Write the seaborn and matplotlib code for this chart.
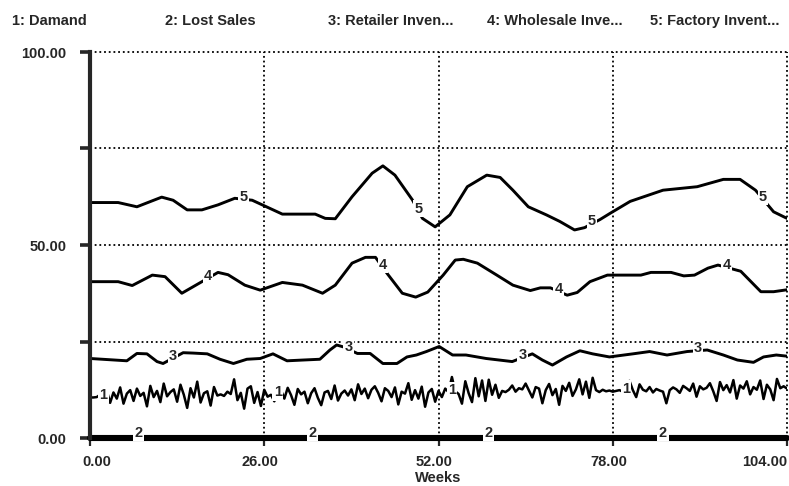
import numpy as np
import pandas as pd
import matplotlib
matplotlib.use("Agg")
import matplotlib.pyplot as plt
import matplotlib.transforms as mtransforms
import seaborn as sns

# header / legend texts
legend_names = ["1: Damand", "2: Lost Sales", "3: Retailer Inven...",
                "4: Wholesale Inve...", "5: Factory Invent..."]

# 1: Demand, read every half week
demand_weeks = np.arange(0, 104.5, 0.5)
demand = [
    10.5, 10.5, 10.6, 11.2, 10.4, 12.3, 9.1, 11.8, 10.2, 13.1, 8.9, 11.5, 12.4,
    9.6, 12.8, 10.9, 11.7, 8.2, 13.5, 10.6, 12.2, 9.3, 14.1, 10.8, 11.9, 12.6,
    9.4, 13.8, 11.2, 7.8, 12.9, 10.5, 14.6, 9.2, 11.6, 12.1, 8.4, 13.2, 11.0,
    11.3, 10.9, 12.0, 11.4, 15.2, 9.8, 11.7, 7.6, 12.8, 13.4, 9.1, 11.9, 8.3,
    12.5, 10.7, 11.2, 9.5, 11.8, 12.4, 10.2, 13.0, 11.1, 8.6, 12.7, 11.3, 12.0,
    9.0, 11.6, 12.9, 10.4, 8.5, 11.8, 12.2, 10.1, 13.6, 9.7, 11.5, 12.3, 11.0,
    12.6, 9.8, 13.9, 11.4, 12.8, 10.3, 12.5, 13.4, 11.7, 9.5, 12.9, 12.2, 10.6,
    13.1, 8.7, 12.0, 11.5, 14.2, 9.9, 12.4, 10.2, 13.3, 8.1, 11.8, 12.7, 9.4,
    12.2, 10.6, 12.8, 11.9, 15.8, 12.1, 11.4, 8.9, 14.7, 11.6, 9.3, 15.5, 10.8,
    14.9, 9.6, 15.1, 11.2, 13.8, 10.4, 12.2, 11.9, 12.5, 13.6, 12.0, 12.9, 12.6,
    14.1, 12.3, 10.5, 13.2, 12.8, 9.0, 12.4, 14.0, 11.1, 12.7, 8.6, 13.5, 12.2,
    14.3, 10.9, 12.6, 15.2, 11.3, 14.6, 10.4, 15.6, 12.4, 11.9, 12.5, 12.1, 12.3,
    12.0, 12.2, 12.4, 12.0, 11.9, 14.8, 12.4, 10.6, 13.9, 12.5, 12.1, 13.2, 11.8,
    12.7, 12.3, 12.0, 9.0, 12.4, 13.1, 12.6, 11.7, 13.5, 12.9, 12.2, 14.1, 10.7,
    13.4, 12.6, 13.0, 14.2, 12.1, 9.6, 14.5, 12.4, 13.7, 11.8, 15.0, 10.2, 13.6,
    12.8, 14.7, 11.3, 13.2, 12.5, 14.9, 10.1, 13.8, 12.6, 9.8, 15.3, 12.9, 13.4,
    12.8,
]

# 2: Lost Sales
lost_weeks = [0, 26, 52, 78, 104]
lost_sales = [0, 0, 0, 0, 0]

# 3: Retailer Inventory
retail_weeks = [0, 5.5, 7, 8.5, 10, 10.9, 13.9, 15.4, 17.5, 19.4,
                21.4, 23.4, 25.4, 27.3, 29.4, 31.8, 34.3, 35.8, 36.8, 37.8,
                39.9, 41.8, 43.7, 45.8, 47.3, 48.7, 50.2, 52.1, 54.1, 56.1,
                59.1, 63, 66, 67.5, 69, 71.1, 73.1, 75, 77.5, 81,
                83.5, 86.1, 89.1, 92.1, 94.5, 96.6, 99, 100.5, 102.4, 104]
retail_inv = [20.6, 20.0, 21.9, 21.8, 19.8, 19.3, 22.1, 22.0, 21.8, 20.4,
              19.3, 20.4, 20.6, 21.8, 20.0, 20.2, 20.4, 22.8, 24.1, 23.6,
              21.9, 21.9, 19.3, 19.3, 21.0, 21.5, 22.4, 23.7, 21.5, 21.5,
              20.6, 19.8, 21.8, 20.2, 18.9, 21.0, 22.6, 21.8, 21.0, 21.8,
              22.4, 21.5, 22.4, 22.8, 21.5, 20.2, 19.6, 21.0, 21.5, 21.2]

# 4: Wholesale Inventory
whole_weeks = [0, 4.2, 6.3, 9.3, 11.2, 13.7, 16.7, 19.1, 20.6, 23.1,
               25.4, 28.7, 31.7, 34.7, 36.6, 39.1, 41.1, 42.6, 44.3, 46.6,
               48.6, 50.4, 52.7, 54.5, 55.7, 57.8, 60.7, 63.1, 65.7, 67.2,
               68.7, 71.2, 72.7, 74.6, 77.2, 82.2, 83.7, 86.7, 88.6, 90.2,
               92.2, 93.7, 97.1, 100.1, 102, 104]
whole_inv = [40.5, 40.5, 39.5, 42.2, 41.8, 37.5, 40.5, 42.9, 42.3, 39.6,
             38.3, 40.3, 39.6, 37.5, 39.6, 45.3, 46.8, 46.8, 42.7, 37.5,
             36.5, 37.8, 42.2, 46.1, 46.3, 45.3, 42.2, 39.6, 38.2, 38.9,
             38.9, 37.0, 37.7, 40.5, 42.2, 42.2, 42.9, 42.9, 42.0, 42.2,
             44.0, 44.8, 43.2, 37.9, 37.9, 38.4]

# 5: Factory Inventory
fact_weeks = [0, 4.2, 7, 10.7, 12.4, 14.5, 16.7, 19.1, 21.6, 24.2,
              25.7, 28.7, 33.6, 35.1, 36.6, 39.1, 42.1, 43.7, 45.5, 48.1,
              49.6, 51.5, 53.7, 56.3, 59.2, 61.2, 63.1, 65.4, 68.1, 70.1,
              72.3, 73.8, 76.1, 77.6, 80.6, 85.5, 90.6, 94.5, 97, 99.3,
              102, 104]
fact_inv = [61, 61, 59.9, 62.4, 61.6, 59.1, 59.1, 60.4, 62.1, 61.6,
            60.4, 58, 58, 56.9, 56.8, 62.5, 68.6, 70.5, 68.1, 61.7,
            56.9, 54.7, 57.8, 65.1, 68.1, 67.5, 64.2, 59.9, 57.8, 56.1,
            53.9, 54.5, 56.6, 58.2, 61.3, 64.2, 65.1, 67, 67, 64.2,
            58.6, 56.9]

# where the series numbers sit on the curves
label_weeks = {
    1: [2.0, 28.0, 54.0, 80.0],
    2: [7.2, 33.2, 59.4, 85.5],
    3: [12.4, 38.6, 64.5, 90.7],
    4: [17.6, 43.7, 69.9, 95.0],
    5: [22.9, 49.0, 74.9, 100.4],
}

sns.set_style("white")
plt.rcParams['font.family'] = ['Liberation Sans', 'DejaVu Sans']

fig = plt.figure(figsize=(7.89, 4.86), dpi=100)
ax = fig.add_axes([90 / 789, 48 / 486, 697 / 789, 386 / 486])

series = [
    (1, demand_weeks, demand, 1.8),
    (3, retail_weeks, retail_inv, 2.1),
    (4, whole_weeks, whole_inv, 2.1),
    (5, fact_weeks, fact_inv, 2.1),
]
for num, wk, vals, lw in series:
    sns.lineplot(x=wk, y=vals, ax=ax, color='black', linewidth=lw,
                 sort=False, zorder=3)
    wk_a = np.asarray(wk)
    vals_a = np.asarray(vals)
    for xl in label_weeks[num]:
        if num == 1:
            # the noisy demand: sit the label at the local level
            near = np.abs(wk_a - xl) <= 3
            yl = np.median(vals_a[near])
        else:
            yl = np.interp(xl, wk_a, vals_a)
        ax.text(xl, yl + 0.6, str(num), ha='center', va='center',
                fontsize=10.5, fontweight='bold', zorder=6,
                bbox=dict(fc='white', ec='none', pad=0.8))

sns.lineplot(x=lost_weeks, y=lost_sales, ax=ax, color='black', linewidth=4.4,
             zorder=4, clip_on=False)
for xl in label_weeks[2]:
    ax.text(xl, 1.4, '2', ha='center', va='center', fontsize=10.5,
            fontweight='bold', zorder=6, clip_on=False,
            bbox=dict(fc='white', ec='none', pad=1.0))

# dotted grid
for yv in [25, 50, 75, 100]:
    ax.axhline(yv, color='black', lw=1.3, ls=(0, (1, 1.6)), zorder=1,
               clip_on=False)
for xv in [26, 52, 78, 104]:
    ax.axvline(xv, color='black', lw=1.3, ls=(0, (1, 1.6)), zorder=1,
               clip_on=False)

ax.set_xlim(0, 104)
ax.set_ylim(0, 100)
for s in ['top', 'right', 'bottom']:
    ax.spines[s].set_visible(False)
ax.spines['left'].set_linewidth(3)
ax.spines['left'].set_zorder(5)

ax.set_yticks([0, 25, 50, 75, 100])
ax.set_yticklabels(['0.00', '', '50.00', '', '100.00'])
ax.set_xticks([0, 26, 52, 78, 104])
ax.set_xticklabels(['0.00', '26.00', '52.00', '78.00', '104.00'])
ax.tick_params(axis='y', direction='out', length=7, width=2.6, pad=10,
               labelsize=10.5, left=True)
ax.tick_params(axis='x', direction='out', length=6, width=1.6, pad=6,
               labelsize=10.5, bottom=True)
for t in ax.get_xticklabels() + ax.get_yticklabels():
    t.set_fontweight('bold')
xlabels = ax.get_xticklabels()
xlabels[0].set_ha('left')
xlabels[0].set_transform(xlabels[0].get_transform() +
                         mtransforms.ScaledTranslation(-8 / 100, 0,
                                                       fig.dpi_scale_trans))
xlabels[-1].set_ha('right')
for t in xlabels[1:-1]:
    t.set_transform(t.get_transform() +
                    mtransforms.ScaledTranslation(-4 / 100, 0,
                                                  fig.dpi_scale_trans))
ax.set_xlabel('')
ax.set_ylabel('')

fig.text(438 / 789, 1 - 478 / 486, 'Weeks', ha='center', va='center',
         fontsize=10.5, fontweight='bold')

header_x = [12, 165, 328, 487, 650]
for hx, name in zip(header_x, legend_names):
    fig.text(hx / 789, 1 - 21 / 486, name, ha='left', va='center',
             fontsize=10.5, fontweight='bold')

fig.savefig('out.png', dpi=100, facecolor='white')
